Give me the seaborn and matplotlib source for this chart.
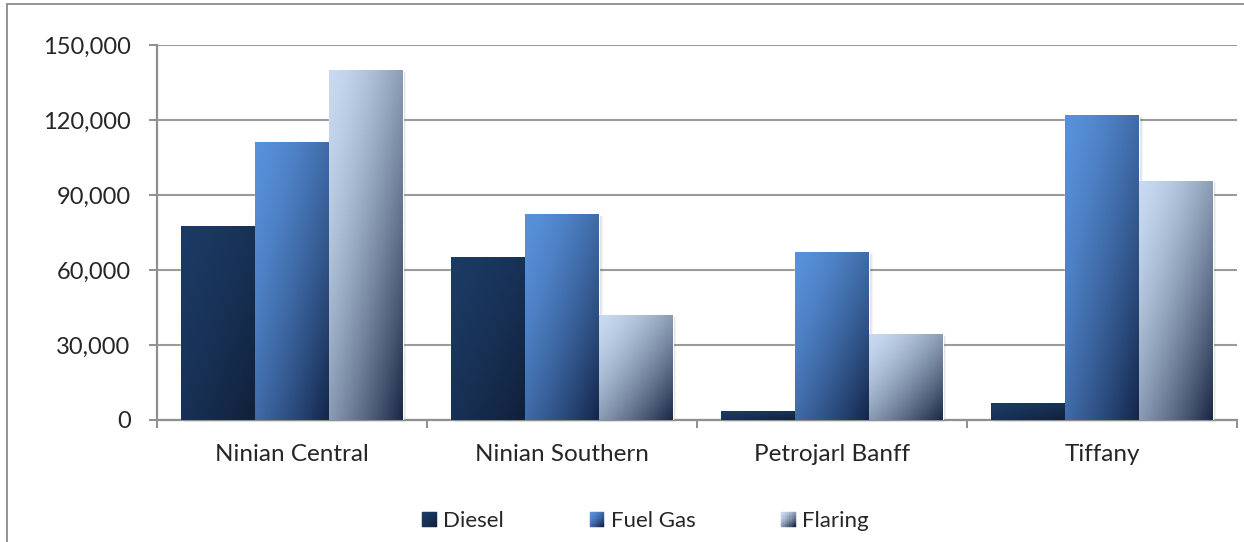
import numpy as np
import pandas as pd
import matplotlib
matplotlib.use("Agg")
import matplotlib.pyplot as plt
import matplotlib.transforms as mtransforms
from matplotlib.patches import Rectangle, Patch
from matplotlib.legend_handler import HandlerBase
from matplotlib.colors import to_rgb
import seaborn as sns

# -----------------------------------------
# Data
# -----------------------------------------
platforms = ["Ninian Central", "Ninian Southern", "Petrojarl Banff", "Tiffany"]
sources = ["Diesel", "Fuel Gas", "Flaring"]
diesel = [77600, 65200, 3600, 6800]
fuel_gas = [111200, 82400, 67200, 122000]
flaring = [140000, 42000, 34400, 95600]
y_ticks = [0, 30000, 60000, 90000, 120000, 150000]

# gradient start (top-left) / end (bottom-right) colours per series
grad_start = {"Diesel": "#1b3a64", "Fuel Gas": "#5891db", "Flaring": "#c8daf1"}
grad_end = {"Diesel": "#11203a", "Fuel Gas": "#13264a", "Flaring": "#1a2845"}

df = pd.DataFrame({
    "platform": platforms * 3,
    "source": [s for s in sources for _ in platforms],
    "value": diesel + fuel_gas + flaring,
})


def gradient(c0, c1, n=96, gamma=1.5):
    u = np.linspace(0, 1, n)
    uu, vv = np.meshgrid(u, u)
    t = ((uu + vv) / 2) ** gamma
    a, b = np.array(to_rgb(c0)), np.array(to_rgb(c1))
    return a + (b - a) * t[..., None]


class GradHandler(HandlerBase):
    def __init__(self, c0, c1):
        super().__init__()
        self.c0, self.c1 = c0, c1

    def create_artists(self, legend, orig_handle, xdescent, ydescent,
                       width, height, fontsize, trans):
        n = 7
        img = gradient(self.c0, self.c1, n=n)
        out = []
        for j in range(n):
            for i in range(n):
                r = Rectangle((-xdescent + i * width / n,
                               -ydescent + height - (j + 1) * height / n),
                              width / n, height / n,
                              facecolor=img[j, i], edgecolor=img[j, i],
                              lw=0.3, transform=trans)
                out.append(r)
        return out


# -----------------------------------------
# Plot
# -----------------------------------------
sns.set_style("white")
plt.rcParams["font.family"] = ["Lato", "DejaVu Sans"]

fig = plt.figure(figsize=(12.44, 5.42), dpi=100)
ax = fig.add_axes([157 / 1244, 122 / 542, 1080 / 1244, 375 / 542])

mid_colors = [grad_start[s] for s in sources]
sns.barplot(data=df, x="platform", y="value", hue="source", hue_order=sources,
            order=platforms, palette=mid_colors, width=0.82, gap=0,
            saturation=1, legend=False, ax=ax, zorder=3)

# gradient fill + soft shadow for every bar
for src, cont in zip(sources, ax.containers):
    img = gradient(grad_start[src], grad_end[src])
    for bar in cont:
        x0, w, h = bar.get_x(), bar.get_width(), bar.get_height()
        for k in range(1, 5):
            tr = mtransforms.offset_copy(ax.transData, fig=fig,
                                         x=k * 0.9, y=-k * 0.6, units="dots")
            ax.add_patch(Rectangle((x0, 0), w, h, transform=tr,
                                   facecolor="black", alpha=0.045, lw=0,
                                   zorder=2.6, clip_on=False))
        ax.imshow(img, extent=(x0, x0 + w, 0, h), origin="upper",
                  aspect="auto", interpolation="bilinear", zorder=3.5)

ax.set_xlim(-0.5, len(platforms) - 0.5)
ax.set_ylim(0, 150000)

# axes styling
ax.set_axisbelow(True)
ax.yaxis.grid(True, color="#9b9b9b", lw=1.5)
for side in ["top", "right"]:
    ax.spines[side].set_visible(False)
for side in ["left", "bottom"]:
    ax.spines[side].set_color("#8f8f8f")
    ax.spines[side].set_linewidth(1.6)
    ax.spines[side].set_zorder(2.7)

ax.set_yticks(y_ticks)
ax.set_yticklabels([f"{v:,}" for v in y_ticks])
ax.tick_params(axis="y", which="major", direction="out", length=6,
               width=1.4, color="#8f8f8f", pad=13, labelsize=17, left=True)

ax.set_xticks(np.arange(-0.5, len(platforms)), labels=[""] * (len(platforms) + 1))
ax.set_xticks(np.arange(len(platforms)), labels=platforms, minor=True)
ax.tick_params(axis="x", which="major", direction="out", length=6,
               width=1.4, color="#8f8f8f", bottom=True)
ax.tick_params(axis="x", which="minor", length=0, pad=17, labelsize=17.5)
ax.set_xlabel("")
ax.set_ylabel("")

# legend with gradient squares
handles = [Patch(label=s) for s in sources]
hmap = {h: GradHandler(grad_start[s], grad_end[s]) for h, s in zip(handles, sources)}
fig.legend(handles=handles, labels=sources, handler_map=hmap, loc="center",
           bbox_to_anchor=(0.519, 0.038), ncol=3, frameon=False, fontsize=16,
           handlelength=0.65, handleheight=0.65, handletextpad=0.3,
           columnspacing=3.85)

# outer chart border (cut off right and bottom like the reference)
fig.patches.append(Rectangle((7 / 1244, -0.05), 1.2, 1.05 - 4 / 542,
                             transform=fig.transFigure, fill=False,
                             edgecolor="#8a8a8a", lw=1.3))

plt.savefig("out.png", dpi=100)
